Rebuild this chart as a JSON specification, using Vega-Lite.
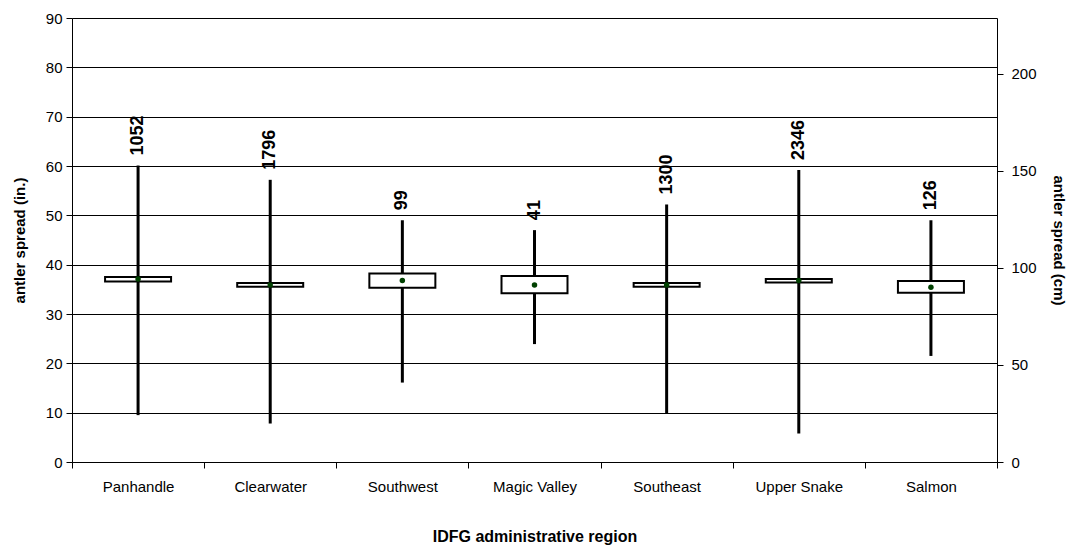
{
  "$schema": "https://vega.github.io/schema/vega-lite/v6.json",
  "autosize": "none",
  "width": 925,
  "height": 444,
  "padding": {"left": 72, "top": 18, "right": 73, "bottom": 84},
  "background": "white",
  "config": {
    "font": "Liberation Sans",
    "view": {"stroke": null},
    "axis": {"labelFont": "Liberation Sans", "titleFont": "Liberation Sans", "labelColor": "black", "titleColor": "black", "domainColor": "black", "tickColor": "black"}
  },
  "data": {
    "values": [
      {"region": "Panhandle", "min": 9.5, "max": 60.1, "q1": 36.6, "q3": 37.5, "mean": 37.1, "n": "1052"},
      {"region": "Clearwater", "min": 7.8, "max": 57.2, "q1": 35.5, "q3": 36.3, "mean": 35.9, "n": "1796"},
      {"region": "Southwest", "min": 16.1, "max": 49, "q1": 35.3, "q3": 38.2, "mean": 36.8, "n": "99"},
      {"region": "Magic Valley", "min": 23.9, "max": 47, "q1": 34.2, "q3": 37.7, "mean": 35.9, "n": "41"},
      {"region": "Southeast", "min": 9.9, "max": 52.2, "q1": 35.5, "q3": 36.3, "mean": 35.9, "n": "1300"},
      {"region": "Upper Snake", "min": 5.8, "max": 59.2, "q1": 36.4, "q3": 37.1, "mean": 36.8, "n": "2346"},
      {"region": "Salmon", "min": 21.5, "max": 49, "q1": 34.3, "q3": 36.7, "mean": 35.4, "n": "126"}
    ]
  },
  "encoding": {
    "x": {
      "field": "region", "type": "nominal", "sort": null,
      "scale": {"paddingInner": 0, "paddingOuter": 0},
      "axis": {"title": "IDFG administrative region", "labelAngle": 0, "labelFontSize": 15, "titleFontSize": 16, "titleFontWeight": "bold", "tickBand": "extent", "tickSize": 6, "labelPadding": 11, "titlePadding": 34, "domainWidth": 1}
    }
  },
  "layer": [
    {
      "layer": [
        {
          "mark": {"type": "rule", "color": "black", "strokeWidth": 3},
          "encoding": {
            "y": {"field": "min", "type": "quantitative", "scale": {"domain": [0, 90], "nice": false},
              "axis": {"title": "antler spread (in.)", "titleFontSize": 15, "titleFontWeight": "bold", "labelFontSize": 15, "values": [0,10,20,30,40,50,60,70,80,90], "grid": true, "gridColor": "black", "gridWidth": 1, "tickSize": 6, "labelPadding": 4, "titlePadding": 18, "domainColor": "black"}},
            "y2": {"field": "max"}
          }
        },
        {
          "mark": {"type": "bar", "fill": "white", "stroke": "black", "strokeWidth": 2, "size": 66},
          "encoding": {
            "y": {"field": "q1", "type": "quantitative"},
            "y2": {"field": "q3"}
          }
        },
        {
          "mark": {"type": "point", "filled": true, "color": "#004000", "size": 30, "opacity": 1},
          "encoding": {
            "y": {"field": "mean", "type": "quantitative"}
          }
        },
        {
          "mark": {"type": "text", "angle": 270, "align": "left", "baseline": "middle", "fontSize": 18, "fontWeight": "bold", "yOffset": -10, "color": "black"},
          "encoding": {
            "y": {"field": "max", "type": "quantitative"},
            "text": {"field": "n"}
          }
        }
      ]
    },
    {
      "data": {"values": [{"cm": 0}, {"cm": 228.6}]},
      "mark": {"type": "point", "opacity": 0},
      "encoding": {
        "x": {"value": 0},
        "y": {"field": "cm", "type": "quantitative", "scale": {"domain": [0, 228.6], "nice": false},
          "axis": {"orient": "right", "title": "antler spread (cm)", "titleFontSize": 15, "titleFontWeight": "bold", "labelFontSize": 15, "values": [0, 50, 100, 150, 200], "grid": false, "tickSize": 6, "tickOffset": 0, "labelPadding": 8, "titlePadding": 14, "domainColor": "black"}}
      }
    }
  ],
  "resolve": {"scale": {"y": "independent"}}
}
